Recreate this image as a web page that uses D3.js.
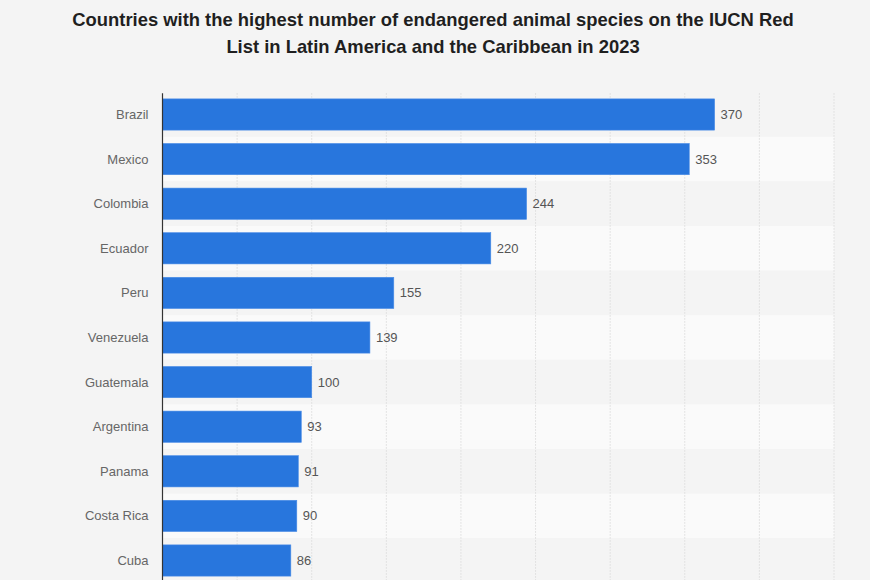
<!DOCTYPE html>
<html>
<head>
<meta charset="utf-8">
<script src="https://cdn.jsdelivr.net/npm/d3@7"></script>
<style>
  html, body { margin: 0; padding: 0; background: #f4f4f4; }
  svg { display: block; }
</style>
</head>
<body>
<svg id="chart" width="870" height="580"></svg>
<script>
const countries = ["Brazil", "Mexico", "Colombia", "Ecuador", "Peru", "Venezuela", "Guatemala", "Argentina", "Panama", "Costa Rica", "Cuba"];
const species = [370, 353, 244, 220, 155, 139, 100, 93, 91, 90, 86];
const xTicks = [0, 50, 100, 150, 200, 250, 300, 350, 400, 450];
const titleLines = [
  "Countries with the highest number of endangered animal species on the IUCN Red",
  "List in Latin America and the Caribbean in 2023"
];

const svg = d3.select("#chart");
const W = 870, H = 580;
const margin = { left: 162.5, right: 36, top: 92.2 };
const step = 44.6;
const plotBottom = margin.top + step * countries.length;

svg.append("rect").attr("width", W).attr("height", H).attr("fill", "#f4f4f4");

const x = d3.scaleLinear().domain([0, 450]).range([margin.left, 834]);
const y = d3.scaleBand().domain(countries).range([margin.top, plotBottom]).paddingInner(0.3).paddingOuter(0.15);

// alternating bands
svg.append("g").selectAll("rect").data(countries).join("rect")
  .attr("x", margin.left)
  .attr("y", d => y(d) - (y.step() - y.bandwidth()) / 2)
  .attr("width", x(450) - margin.left)
  .attr("height", y.step())
  .attr("fill", (d, i) => i % 2 === 1 ? "#fafafa" : "#f4f4f4");

// gridlines
svg.append("g").selectAll("line").data(xTicks.slice(1)).join("line")
  .attr("x1", d => x(d)).attr("x2", d => x(d))
  .attr("y1", margin.top + 1).attr("y2", H)
  .attr("stroke", "#dcdcdc").attr("stroke-width", 1)
  .attr("stroke-dasharray", "1.5,1.5");

// bars
svg.append("g").selectAll("rect").data(countries).join("rect")
  .attr("x", x(0))
  .attr("y", d => y(d))
  .attr("width", (d, i) => x(species[i]) - x(0))
  .attr("height", y.bandwidth())
  .attr("fill", "#2876dd")
  .attr("stroke", "#4a8ce6").attr("stroke-width", 0.6);

// y axis line
svg.append("line")
  .attr("x1", margin.left).attr("x2", margin.left)
  .attr("y1", margin.top + 1).attr("y2", H)
  .attr("stroke", "#333").attr("stroke-width", 1.2);

// category labels
svg.append("g").selectAll("text").data(countries).join("text")
  .attr("x", margin.left - 14)
  .attr("y", d => y(d) + y.bandwidth() / 2)
  .attr("dy", "0.35em")
  .attr("text-anchor", "end")
  .attr("font-family", "Liberation Sans, Arial, sans-serif")
  .attr("font-size", 13)
  .attr("fill", "#666")
  .text(d => d);

// value labels
svg.append("g").selectAll("text").data(countries).join("text")
  .attr("x", (d, i) => x(species[i]) + 6)
  .attr("y", d => y(d) + y.bandwidth() / 2)
  .attr("dy", "0.35em")
  .attr("font-family", "Liberation Sans, Arial, sans-serif")
  .attr("font-size", 13)
  .attr("fill", "#555")
  .text((d, i) => species[i]);

// title
svg.append("g").selectAll("text").data(titleLines).join("text")
  .attr("x", 433)
  .attr("y", (d, i) => 26 + i * 27)
  .attr("text-anchor", "middle")
  .attr("font-family", "Liberation Sans, Arial, sans-serif")
  .attr("font-weight", "bold")
  .attr("font-size", 18.4)
  .attr("fill", "#1f1f1f")
  .text(d => d);
</script>
</body>
</html>
